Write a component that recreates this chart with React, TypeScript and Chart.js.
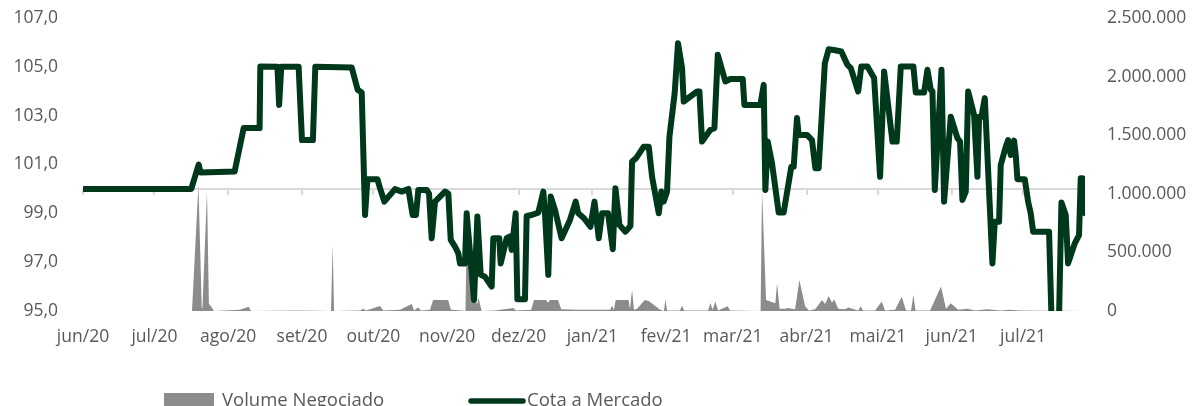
import { useEffect, useRef } from "react";
import { Chart, registerables } from "chart.js";

Chart.register(...registerables);

// ---- Data -----------------------------------------------------------
// Day offsets are counted from 01/06/2020 (first day of the x axis).
const monthLabels = [
  "jun/20", "jul/20", "ago/20", "set/20", "out/20", "nov/20", "dez/20",
  "jan/21", "fev/21", "mar/21", "abr/21", "mai/21", "jun/21", "jul/21",
];
const monthStartDays = [0, 30, 61, 92, 122, 153, 183, 214, 245, 273, 304, 334, 365, 395];
const lastDay = 421;

const leftTicks = [95, 97, 99, 101, 103, 105, 107];
const rightTicks = [0, 500000, 1000000, 1500000, 2000000, 2500000];
const axisCrossValue = 100;

const cotaDays = [
  0, 45.5, 48.6, 49.4, 63.7, 67.5, 74.2, 74.5, 81.7, 82.4, 83.3, 90.6, 92.0, 96.6, 97.6,
  112.9, 115.4, 117.1, 118.5, 119.5, 123.7, 124.8, 126.6, 131.1, 133.9, 136.7, 138.5, 139.9,
  140.9, 144.4, 145.4, 146.5, 147.9, 152.1, 153.5, 154.5, 156.3, 157.7, 158.4, 160.5, 161.2,
  164.3, 165.7, 167.1, 168.9, 171.7, 172.4, 174.9, 175.5, 178.0, 179.4, 180.1, 181.8, 182.5,
  185.7, 186.4, 188.5, 191.3, 193.4, 194.1, 195.5, 196.5, 198.3, 201.1, 204.6, 207.0, 208.1,
  210.5, 213.2, 214.9, 216.7, 218.1, 220.6, 222.6, 223.7, 225.4, 227.9, 230.0, 230.7, 232.4,
  235.6, 237.7, 239.1, 241.9, 243.0, 244.0, 245.4, 246.4, 248.6, 250.0, 251.7, 252.4, 258.0,
  259.0, 260.1, 263.6, 265.3, 266.7, 269.9, 272.0, 277.2, 277.9, 284.6, 286.0, 286.7, 287.7,
  289.5, 292.3, 294.4, 297.6, 298.6, 300.0, 300.7, 304.2, 306.3, 307.7, 309.1, 311.7, 313.3,
  316.0, 318.6, 321.2, 322.6, 325.7, 327.0, 329.6, 332.4, 334.9, 336.6, 340.1, 341.9, 343.6,
  348.9, 349.9, 353.4, 354.8, 356.2, 356.9, 357.9, 360.7, 361.8, 364.6, 367.4, 368.5, 369.5,
  370.9, 371.9, 374.4, 375.8, 376.5, 377.5, 378.9, 382.1, 383.1, 384.9, 385.6, 387.7, 388.7,
  389.8, 391.2, 391.9, 392.6, 395.7, 397.1, 398.2, 399.2, 405.9, 406.9, 410.1, 411.1, 412.9,
  413.9, 416.7, 418.5, 419.2, 419.9, 421.0,
];
const cotaValues = [
  100.0, 100.0, 101.0, 100.67, 100.71, 102.49, 102.49, 105.01, 105.0, 103.44, 105.0, 105.0, 102.0, 102.0, 105.0,
  104.97, 104.06, 103.95, 98.93, 100.4, 100.4, 100.03, 99.48, 99.99, 99.89, 100.0, 98.93, 98.93,
  99.96, 99.96, 99.8, 97.98, 99.48, 99.89, 99.8, 97.91, 97.64, 97.36, 96.95, 96.95, 99.0,
  95.45, 98.87, 96.48, 96.4, 96.0, 97.98, 97.98, 96.95, 97.98, 98.05, 97.5, 99.0, 95.48,
  95.48, 98.89, 98.93, 99.03, 99.89, 99.0, 96.48, 99.69, 99.14, 97.98, 98.73, 99.48, 99.0,
  98.8, 98.45, 99.48, 97.98, 99.0, 99.0, 97.53, 100.03, 98.52, 98.25, 98.48, 101.12, 101.26,
  101.73, 101.73, 100.5, 99.0, 99.89, 99.48, 99.89, 102.14, 103.92, 105.97, 104.95, 103.58, 103.99,
  103.99, 101.94, 102.42, 102.49, 105.49, 104.4, 104.5, 104.5, 103.44, 103.44, 104.26, 99.96, 101.94,
  101.05, 99.03, 99.03, 100.91, 100.91, 102.9, 102.21, 102.21, 102.0, 100.85, 100.85, 105.15, 105.72,
  105.68, 105.63, 105.08, 104.95, 103.99, 105.01, 105.01, 104.54, 100.5, 104.81, 101.94, 101.94, 105.01,
  105.01, 103.95, 103.95, 104.88, 104.06, 104.0, 99.96, 104.88, 99.48, 102.96, 102.08, 101.94, 99.55,
  99.89, 103.99, 103.03, 100.5, 102.96, 102.96, 103.72, 96.95, 98.66, 98.66, 100.98, 101.73, 102.0,
  101.39, 101.98, 101.39, 100.4, 100.4, 99.48, 99.0, 98.25, 98.25, 94.8, 94.8, 99.44, 98.93,
  96.95, 97.77, 98.11, 100.44, 100.44, 99.0,
];

const volumeDays = [
  0, 45.8, 48.5, 49.9, 50.2, 52.1, 52.9, 53.8, 55.0, 66.0, 69.6, 70.6, 91.2, 104.2, 104.9, 105.5,
  116.4, 117.8, 118.9, 124.8, 126.1, 133.2, 138.1, 139.1, 140.8, 142.0, 145.8, 147.1, 153.4, 154.6,
  159.3, 160.7, 161.4, 164.0, 165.6, 166.2, 167.5, 173.1, 180.8, 181.9, 188.3, 189.5, 194.6, 195.4,
  196.2, 199.6, 200.9, 208.8, 221.5, 222.3, 223.1, 223.8, 229.2, 229.8, 230.7, 231.5, 232.8, 236.0,
  237.7, 242.5, 244.1, 244.7, 245.4, 250.8, 251.7, 252.6, 262.6, 263.6, 264.5, 265.7, 266.8, 270.9,
  271.8, 278.2, 284.7, 285.3, 287.0, 290.9, 291.6, 292.7, 295.0, 296.2, 299.2, 301.0, 303.4, 305.0,
  307.6, 310.5, 311.8, 313.3, 314.7, 315.6, 317.3, 320.2, 321.5, 325.7, 326.8, 327.7, 332.8, 335.6,
  337.0, 341.2, 344.0, 345.8, 347.9, 348.9, 349.8, 355.9, 360.5, 362.6, 364.6, 367.7, 371.5, 374.9,
  379.9, 385.3, 389.5, 393.7, 421.0,
];
const volumeValues = [
  0, 0, 1080000, 20000, 30000, 1020000, 60000, 40000, 0, 10000, 37000, 0, 5000, 0, 563000, 0,
  5000, 20000, 5000, 43000, 5000, 10000, 60000, 5000, 30000, 5000, 10000, 94000, 94000, 10000,
  5000, 0, 836000, 120000, 60000, 110000, 0, 5000, 25000, 5000, 10000, 94000, 94000, 70000,
  94000, 94000, 15000, 10000, 10000, 45000, 10000, 94000, 94000, 20000, 180000, 10000, 20000, 94000,
  85000, 10000, 0, 100000, 5000, 5000, 45000, 5000, 5000, 68000, 10000, 80000, 5000, 40000,
  5000, 3000, 0, 1030000, 94000, 66000, 236000, 20000, 20000, 25000, 15000, 265000, 40000, 5000,
  15000, 94000, 60000, 128000, 70000, 100000, 20000, 15000, 30000, 5000, 40000, 5000, 5000, 80000,
  5000, 10000, 122000, 5000, 5000, 136000, 5000, 5000, 210000, 20000, 66000, 10000, 20000, 5000,
  15000, 5000, 10000, 5000, 0,
];

// ---- Styling ---------------------------------------------------------
const FONT = "'Open Sans', 'Noto Sans', sans-serif";
const TEXT_COLOR = "#595959";
const LINE_COLOR = "#00381c";
const AREA_COLOR = "#8c8c8c";
const AXIS_COLOR = "#d9d9d9";

const fmtLeft = (v: number) => v.toFixed(1).replace(".", ",");
const fmtRight = (v: number) =>
  String(Math.round(v)).replace(/\B(?=(\d{3})+(?!\d))/g, ".");

const crossAxisPlugin = {
  id: "crossAxis",
  beforeDatasetsDraw(chart: any) {
    const { ctx, chartArea, scales } = chart;
    const y = scales.y.getPixelForValue(axisCrossValue);
    ctx.save();
    ctx.strokeStyle = AXIS_COLOR;
    ctx.lineWidth = 2;
    ctx.beginPath();
    ctx.moveTo(chartArea.left, y);
    ctx.lineTo(chartArea.right, y);
    scales.x.ticks.forEach((t: any) => {
      const px = Math.round(scales.x.getPixelForValue(t.value));
      ctx.moveTo(px, y);
      ctx.lineTo(px, y + 6);
    });
    ctx.stroke();
    ctx.restore();
  },
};

const legendPlugin = {
  id: "customLegend",
  afterDraw(chart: any) {
    const { ctx } = chart;
    const cy = 401;
    ctx.save();
    ctx.font = `18.5px ${FONT}`;
    ctx.textBaseline = "middle";
    ctx.textAlign = "left";
    // Volume item
    ctx.fillStyle = AREA_COLOR;
    ctx.fillRect(164, cy - 8, 50, 16);
    ctx.fillStyle = TEXT_COLOR;
    ctx.fillText(chart.data.datasets[1].label, 222, cy);
    // Cota item
    ctx.strokeStyle = LINE_COLOR;
    ctx.lineWidth = 5.5;
    ctx.lineCap = "round";
    ctx.beginPath();
    ctx.moveTo(471, cy);
    ctx.lineTo(523, cy);
    ctx.stroke();
    ctx.fillStyle = TEXT_COLOR;
    ctx.fillText(chart.data.datasets[0].label, 527, cy);
    ctx.restore();
  },
};

export default function App() {
  const canvasRef = useRef<HTMLCanvasElement | null>(null);

  useEffect(() => {
    if (!canvasRef.current) return;
    const tickFont = { family: FONT, size: 17.5 };
    const chart = new Chart(canvasRef.current, {
      type: "line",
      data: {
        datasets: [
          {
            label: "Cota a Mercado",
            data: cotaDays.map((d, i) => ({ x: d, y: cotaValues[i] })),
            yAxisID: "y",
            borderColor: LINE_COLOR,
            backgroundColor: LINE_COLOR,
            borderWidth: 6,
            borderJoinStyle: "round",
            borderCapStyle: "round",
            pointRadius: 0,
            tension: 0,
            fill: false,
            order: 0,
          },
          {
            label: "Volume Negociado",
            data: volumeDays.map((d, i) => ({ x: d, y: volumeValues[i] })),
            yAxisID: "y1",
            borderColor: AREA_COLOR,
            backgroundColor: AREA_COLOR,
            borderWidth: 0,
            pointRadius: 0,
            tension: 0,
            fill: "origin",
            order: 1,
          },
        ],
      },
      options: {
        animation: false,
        responsive: false,
        maintainAspectRatio: false,
        layout: { padding: { top: 18, bottom: 0, left: 0, right: 0 } },
        plugins: {
          legend: { display: false },
          tooltip: { enabled: false },
        },
        scales: {
          x: {
            type: "linear",
            min: 0,
            max: lastDay,
            afterBuildTicks: (s: any) => {
              s.ticks = monthStartDays.map((v) => ({ value: v }));
            },
            ticks: {
              autoSkip: false,
              maxRotation: 0,
              minRotation: 0,
              padding: 16,
              color: TEXT_COLOR,
              font: tickFont,
              callback: (v: any) => monthLabels[monthStartDays.indexOf(Number(v))] ?? "",
            },
            grid: { display: false, drawTicks: false },
            border: { display: false },
            afterFit: (s: any) => {
              s.height = 95;
              s.paddingLeft = 0;
              s.paddingRight = 0;
            },
          },
          y: {
            position: "left",
            min: leftTicks[0],
            max: leftTicks[leftTicks.length - 1],
            afterBuildTicks: (s: any) => {
              s.ticks = leftTicks.map((v) => ({ value: v }));
            },
            ticks: {
              padding: 25,
              color: TEXT_COLOR,
              font: tickFont,
              callback: (v: any) => fmtLeft(Number(v)),
            },
            grid: { display: false, drawTicks: false },
            border: { display: false },
            afterFit: (s: any) => {
              s.width = 83;
              s.paddingTop = 0;
              s.paddingBottom = 0;
            },
          },
          y1: {
            position: "right",
            min: rightTicks[0],
            max: rightTicks[rightTicks.length - 1],
            afterBuildTicks: (s: any) => {
              s.ticks = rightTicks.map((v) => ({ value: v }));
            },
            ticks: {
              padding: 22,
              color: TEXT_COLOR,
              font: tickFont,
              callback: (v: any) => fmtRight(Number(v)),
            },
            grid: { display: false, drawTicks: false },
            border: { display: false },
            afterFit: (s: any) => {
              s.width = 110;
              s.paddingTop = 0;
              s.paddingBottom = 0;
            },
          },
        },
      },
      plugins: [crossAxisPlugin, legendPlugin],
    } as any);
    return () => chart.destroy();
  }, []);

  return (
    <div style={{ position: "fixed", left: 0, top: 0, width: 1195, height: 406, background: "#fff" }}>
      <canvas ref={canvasRef} width={1195} height={406} style={{ display: "block" }} />
    </div>
  );
}
